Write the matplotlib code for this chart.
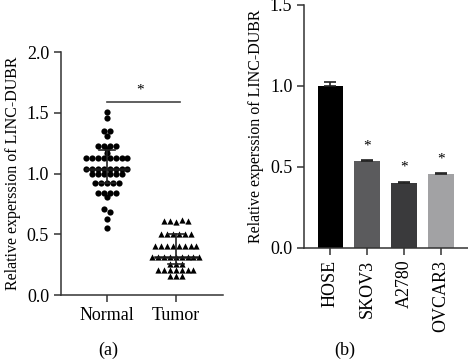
import numpy as np
import matplotlib
matplotlib.use('Agg')
import matplotlib.pyplot as plt

plt.rcParams['font.family'] = 'Liberation Serif'
plt.rcParams['font.size'] = 13

# panel (a): individual values
normal = [1.51, 1.46, 1.35, 1.35, 1.31, 1.23, 1.23, 1.23, 1.23, 1.20, 1.17,
          1.13, 1.13, 1.13, 1.13, 1.13, 1.13, 1.13, 1.13,
          1.04, 1.04, 1.04, 1.04, 1.04, 1.04, 1.04, 1.04,
          1.00, 1.00, 1.00, 1.00, 1.00, 1.00,
          0.92, 0.92, 0.92, 0.92, 0.92,
          0.84, 0.84, 0.84, 0.84, 0.81, 0.71, 0.685, 0.63, 0.55]
tumor = [0.61, 0.61, 0.60, 0.62, 0.61,
         0.50, 0.50, 0.50, 0.50, 0.50, 0.50,
         0.40, 0.40, 0.40, 0.40, 0.40, 0.40, 0.40, 0.40,
         0.31, 0.31, 0.31, 0.31, 0.31, 0.31, 0.31, 0.31, 0.31,
         0.26, 0.26, 0.26,
         0.21, 0.21, 0.21, 0.21, 0.21, 0.21, 0.21,
         0.155, 0.155, 0.155]
groups = ['Normal', 'Tumor']
centers = [1.04, 0.31]
err_low = [0.92, 0.26]
err_high = [1.19, 0.50]

# panel (b)
cells = ['HOSE', 'SKOV3', 'A2780', 'OVCAR3']
expr = [1.0, 0.535, 0.40, 0.455]
expr_err = [0.02, 0.005, 0.007, 0.005]
bar_colors = ['#000000', '#5b5b5d', '#3a3a3c', '#a2a2a4']
star = [False, True, True, True]

spine_c = '#333333'


def spread(vals, step, tol=0.03):
    # points with (nearly) the same value are laid out side by side in a row
    vals = np.asarray(vals)
    offs = np.zeros(len(vals))
    used = np.zeros(len(vals), bool)
    for i in range(len(vals)):
        if used[i]:
            continue
        idx = [j for j in range(i, len(vals)) if not used[j] and abs(vals[j] - vals[i]) < tol]
        n = len(idx)
        for k, j in enumerate(idx):
            offs[j] = (k - (n - 1) / 2) * step
            used[j] = True
    return offs


fig = plt.figure(figsize=(4.68, 3.59), dpi=100)
ax1 = fig.add_axes([0.130, 0.178, 0.346, 0.677])
ax2 = fig.add_axes([0.650, 0.310, 0.350, 0.677])

# ---- (a) scatter
d = 0.085  # marker spacing in x units
for i, (vals, mk) in enumerate(zip([normal, tumor], ['o', '^'])):
    off = spread(vals, d, tol=0.025)
    ax1.scatter(i + off, vals, s=20, marker=mk, color='black', linewidths=0, zorder=3)
    ax1.plot([i - 0.3, i + 0.3], [centers[i]] * 2, color='#1a1a1a', lw=1.8, zorder=4)
    ax1.plot([i, i], [err_low[i], err_high[i]], color='#222222', lw=1.2, zorder=4)
    for e in (err_low[i], err_high[i]):
        ax1.plot([i - 0.12, i + 0.12], [e, e], color='#222222', lw=1.2, zorder=4)

ax1.plot([0, 1.06], [1.59, 1.59], color='#444444', lw=1.2)
ax1.text(0.48, 1.69, '*', ha='center', va='center', fontsize=11)

ax1.set_xlim(-0.667, 1.68)
ax1.set_ylim(0, 2.0)
ax1.set_yticks([0, 0.5, 1.0, 1.5, 2.0])
ax1.set_yticklabels(['0.0', '0.5', '1.0', '1.5', '2.0'])
ax1.set_xticks([0, 1])
ax1.set_xticklabels(groups)
ax1.set_ylabel('Relative experssion of LINC-DUBR', fontsize=11.5, labelpad=4)

# ---- (b) bars
pos = np.arange(len(cells))
ax2.bar(pos, expr, width=0.68, color=bar_colors, zorder=2)
ax2.errorbar(pos, expr, yerr=[[0] * 4, expr_err], fmt='none', ecolor='#222222',
             elinewidth=1.2, capsize=4, capthick=1.2, zorder=3)
for p, v, e, s in zip(pos, expr, expr_err, star):
    if s:
        ax2.text(p, v + e + 0.09, '*', ha='center', va='center', fontsize=11)

ax2.set_xlim(-0.7, 3.73)
ax2.set_ylim(0, 1.5)
ax2.set_yticks([0, 0.5, 1.0, 1.5])
ax2.set_yticklabels(['0.0', '0.5', '1.0', '1.5'])
ax2.set_xticks(pos)
ax2.set_xticklabels(cells, rotation=90)
ax2.set_ylabel('Relative experssion of LINC-DUBR', fontsize=11.5, labelpad=4)

for ax in (ax1, ax2):
    for sp in ('top', 'right'):
        ax.spines[sp].set_visible(False)
    for sp in ('left', 'bottom'):
        ax.spines[sp].set_color(spine_c)
        ax.spines[sp].set_linewidth(1.1)
    ax.tick_params(direction='out', length=5, width=1.1, color=spine_c, labelsize=13)

fig.text(108 / 468, 1 - 350 / 359, '(a)', ha='center', va='center', fontsize=13)
fig.text(345 / 468, 1 - 350 / 359, '(b)', ha='center', va='center', fontsize=13)

fig.savefig('out.png', dpi=100)
